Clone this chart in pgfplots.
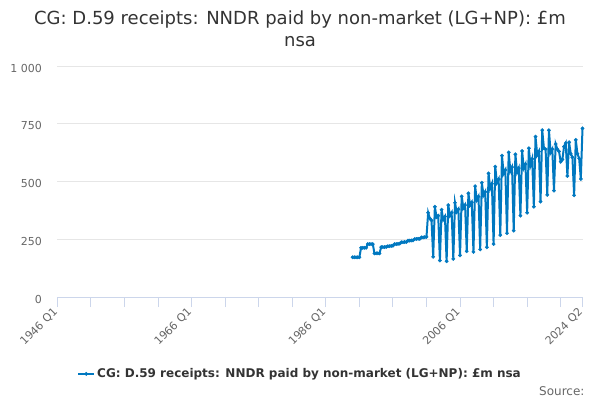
\documentclass[border=0pt]{standalone}
\usepackage{fontspec}
\setmainfont{DejaVu Sans}
\usepackage{pgfplots}
\pgfplotsset{compat=1.18}
\definecolor{series}{RGB}{0,120,192}
\definecolor{axisline}{HTML}{CCD6EB}
\definecolor{gridc}{HTML}{E6E6E6}
\definecolor{lab}{HTML}{666666}
\definecolor{titlec}{HTML}{333333}
\begin{document}
\begin{tikzpicture}
\path[use as bounding box] (0,0) rectangle (600pt,400pt);
\node[align=center, font=\fontsize{18}{22}\selectfont, text=titlec] at (300pt,371pt) {CG: D.59 receipts: NNDR paid by non-market (LG+NP): £m\\nsa};
\begin{axis}[
 at={(57.4pt,103pt)}, anchor=south west, scale only axis, width=525.1pt, height=231pt,
 xmin=1946, xmax=2024.25, ymin=0, ymax=1000,
 axis x line*=bottom, axis y line*=left,
 x axis line style={draw=axisline, line width=1pt, -},
 y axis line style={draw=none},
 xtick={1946,1966,1986,2006,2024.25},
 xticklabels={1946 Q1,1966 Q1,1986 Q1,2006 Q1,2024 Q2},
 minor xtick={1951,1956,1961,1971,1976,1981,1991,1996,2001,2011,2016,2021},
 xtick style={draw=axisline, line width=1pt},
 minor x tick style={draw=axisline, line width=1pt},
 xtick align=outside, major tick length=10pt, minor tick length=10pt,
 ytick={0,250,500,750,1000}, yticklabels={0,250,500,750,1 000},
 ytick style={draw=none},
 ymajorgrids, grid style={draw=gridc, line width=1pt},
 ticklabel style={font=\fontsize{11}{13}\selectfont, text=lab},
 yticklabel style={anchor=east, xshift=-12pt, yshift=-2pt},
 xticklabel style={rotate=45, anchor=east, yshift=-1pt},
 clip=false,
 legend style={at={(0.462,-0.333)}, anchor=center, draw=none, fill=none, font=\bfseries\fontsize{12}{14}\selectfont, text=titlec},
 legend image code/.code={\draw[mark repeat=2,mark phase=2] plot coordinates {(0pt,0pt) (8pt,0pt) (16pt,0pt)};},
]
\addplot[series, line width=2pt, mark=*, mark size=1.7pt, mark options={solid, line width=0.4pt}] table {
x y
1990.00 172
1990.25 172
1990.50 172
1990.75 172
1991.00 172
1991.25 213
1991.50 213
1991.75 213
1992.00 213
1992.25 229
1992.50 229
1992.75 229
1993.00 229
1993.25 189
1993.50 189
1993.75 189
1994.00 189
1994.25 216
1994.50 216
1994.75 216
1995.00 217
1995.25 220
1995.50 220
1995.75 221
1996.00 222
1996.25 229
1996.50 229
1996.75 230
1997.00 231
1997.25 237
1997.50 237
1997.75 238
1998.00 238
1998.25 244
1998.50 244
1998.75 245
1999.00 245
1999.25 251
1999.50 251
1999.75 252
2000.00 252
2000.25 258
2000.50 258
2000.75 259
2001.00 260
2001.25 365
2001.50 340
2001.75 332
2002.00 174
2002.25 391
2002.50 345
2002.75 352
2003.00 158
2003.25 378
2003.50 335
2003.75 348
2004.00 155
2004.25 398
2004.50 352
2004.75 365
2005.00 165
2005.25 408
2005.50 368
2005.75 380
2006.00 180
2006.25 436
2006.50 385
2006.75 398
2007.00 198
2007.25 449
2007.50 398
2007.75 410
2008.00 195
2008.25 480
2008.50 420
2008.75 435
2009.00 206
2009.25 495
2009.50 440
2009.75 455
2010.00 215
2010.25 535
2010.50 470
2010.75 490
2011.00 229
2011.25 564
2011.50 495
2011.75 510
2012.00 268
2012.25 612
2012.50 535
2012.75 550
2013.00 276
2013.25 626
2013.50 545
2013.75 562
2014.00 287
2014.25 618
2014.50 540
2014.75 558
2015.00 352
2015.25 632
2015.50 558
2015.75 575
2016.00 365
2016.25 644
2016.50 571
2016.75 598
2017.00 391
2017.25 694
2017.50 615
2017.75 630
2018.00 413
2018.25 722
2018.50 644
2018.75 640
2019.00 442
2019.25 722
2019.50 625
2019.75 640
2020.00 460
2020.25 662
2020.50 640
2020.75 630
2021.00 586
2021.25 595
2021.50 651
2021.75 666
2022.00 524
2022.25 670
2022.50 620
2022.75 605
2023.00 440
2023.25 680
2023.50 620
2023.75 600
2024.00 511
2024.25 730
};
\addlegendentry{CG: D.59 receipts: NNDR paid by non-market (LG+NP): £m nsa}
\end{axis}
\node[anchor=east, font=\fontsize{12}{14}\selectfont, text=lab] at (588pt,9pt) {Source:};
\end{tikzpicture}
\end{document}
